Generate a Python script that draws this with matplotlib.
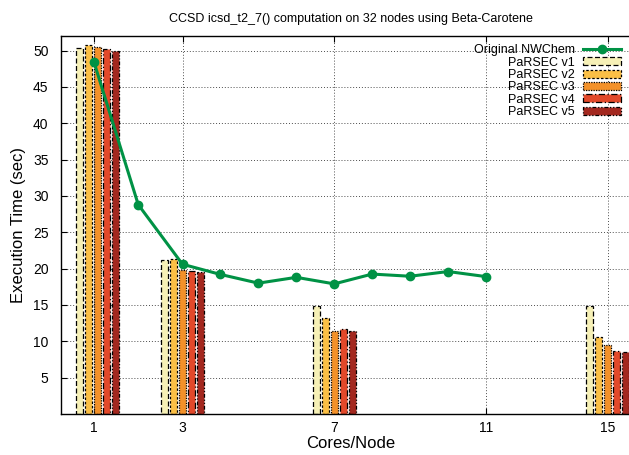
"""
CCSD icsd_t2_7() execution time: original NWChem vs PaRSEC variants.
"""

import matplotlib

matplotlib.use("Agg")
import matplotlib.pyplot as plt
import numpy as np

plt.rcParams["font.family"] = ["Liberation Sans", "DejaVu Sans"]

# Data ########################################################################
nwchem_cores = [1, 2, 3, 4, 5, 6, 7, 8, 9, 10, 11]
nwchem_time = [48.4, 28.8, 20.6, 19.2, 18.0, 18.8, 17.9, 19.25, 18.95, 19.6, 18.9]

parsec_cores = [1, 3, 7, 15]
parsec_v1 = [50.4, 21.25, 14.85, 14.85]
parsec_v2 = [50.7, 21.3, 13.15, 10.6]
parsec_v3 = [50.5, 19.8, 11.4, 9.5]
parsec_v4 = [50.2, 19.65, 11.65, 8.65]
parsec_v5 = [49.9, 19.5, 11.4, 8.5]

x_ticks = [1, 3, 7, 11, 15]
y_ticks = [5, 10, 15, 20, 25, 30, 35, 40, 45, 50]

# The original x axis is piecewise linear (gnuplot layout), in pixel units
SCALE_CORES = [0, 1, 3, 11, 15, 17]
SCALE_PX = [49.75, 94.0, 182.5, 486.0, 607.6, 668.4]
# gnuplot put the first cluster slightly right of its tick
CLUSTER_SHIFT_PX = [3.5, 0.0, 0.0, 0.0]


def fwd(x):
    return np.interp(x, SCALE_CORES, SCALE_PX)


def inv(p):
    return np.interp(p, SCALE_PX, SCALE_CORES)


def main():
    fig = plt.figure(figsize=(6.29, 4.55), dpi=100)
    ax = fig.add_axes([61 / 629, 1 - 414 / 455, (641 - 61) / 629, (414 - 36) / 455])
    ax.set_xscale("function", functions=(fwd, inv))

    series = [
        ("PaRSEC v1", parsec_v1, "#f6f0b6", (0, (4, 2))),
        ("PaRSEC v2", parsec_v2, "#fbbf45", (0, (2, 1.5))),
        ("PaRSEC v3", parsec_v3, "#f39129", (0, (1, 1))),
        ("PaRSEC v4", parsec_v4, "#e2492a", (0, (5, 2, 1, 2))),
        ("PaRSEC v5", parsec_v5, "#a3281f", (0, (3, 1.5, 1, 1.5, 1, 1.5))),
    ]

    bar_w, pitch = 6.8, 9.0
    centres = fwd(np.array(parsec_cores, dtype=float)) + np.array(CLUSTER_SHIFT_PX)
    bars = []
    for i, (label, vals, color, ls) in enumerate(series):
        left_px = centres + (i - 2) * pitch - bar_w / 2
        lefts = inv(left_px)
        widths = inv(left_px + bar_w) - lefts
        b = ax.bar(
            lefts, vals, width=widths, align="edge", color=color,
            edgecolor="black", linewidth=0.9, linestyle=ls, label=label, zorder=2,
        )
        bars.append(b)

    (line,) = ax.plot(
        nwchem_cores, nwchem_time, color="#009245", lw=2.2, marker="o",
        markersize=6, label="Original NWChem", zorder=3,
    )

    ax.set_xlim(inv(61), inv(641))
    ax.set_ylim(0, 52)
    ax.set_xticks(x_ticks)
    ax.set_xticklabels([str(t) for t in x_ticks])
    ax.set_yticks(y_ticks)
    ax.xaxis.set_minor_locator(matplotlib.ticker.NullLocator())

    ax.grid(True, linestyle=(0, (1, 2)), color="0.3", linewidth=0.7, zorder=0)
    ax.set_axisbelow(True)
    ax.tick_params(direction="in", length=4, width=0.8, top=True, right=False,
                   labelsize=10)
    ax.tick_params(axis="y", pad=9)
    ax.tick_params(axis="x", pad=5)
    for s in ax.spines.values():
        s.set_linewidth(1.0)

    ax.set_title("CCSD icsd_t2_7() computation on 32 nodes using Beta-Carotene",
                 fontsize=9, pad=10)
    ax.set_xlabel("Cores/Node", fontsize=12, labelpad=1)
    ax.set_ylabel("Execution Time (sec)", fontsize=12, labelpad=5)

    ax.legend(
        [line] + bars,
        ["Original NWChem"] + [s[0] for s in series],
        loc="upper right",
        bbox_to_anchor=(627 / 629, 1 - 38 / 455),
        bbox_transform=fig.transFigure,
        frameon=False,
        markerfirst=False,
        fontsize=9,
        borderpad=0,
        handlelength=3.0,
        handleheight=0.6,
        handletextpad=0.7,
        labelspacing=0.03,
    )

    fig.savefig("out.png", dpi=100)


if __name__ == "__main__":
    main()
